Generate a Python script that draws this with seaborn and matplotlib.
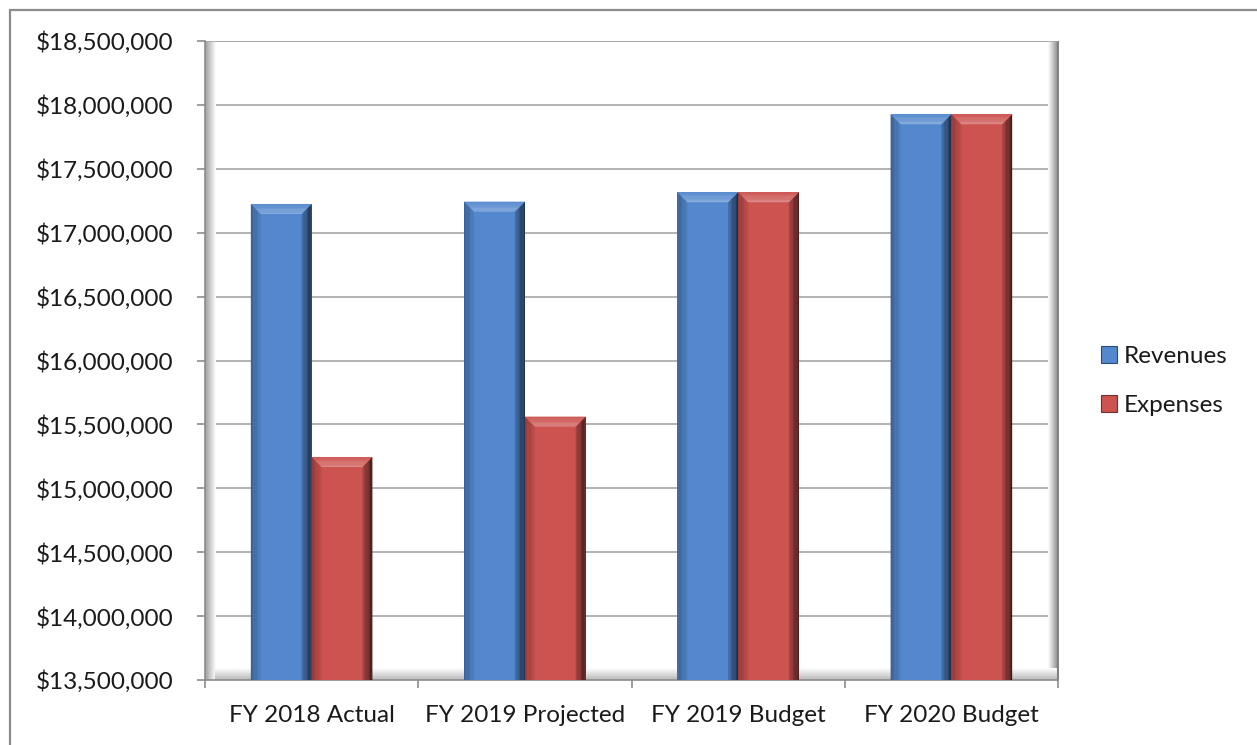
import numpy as np
import pandas as pd
import matplotlib
matplotlib.use("Agg")
import matplotlib.pyplot as plt
from matplotlib.patches import Polygon, Rectangle, Patch
from matplotlib.colors import to_rgb
import seaborn as sns

# Data
categories = ["FY 2018 Actual", "FY 2019 Projected", "FY 2019 Budget", "FY 2020 Budget"]
revenues = [17225000, 17243000, 17317000, 17927000]
expenses = [15245000, 15561000, 17317000, 17927000]
series_names = ["Revenues", "Expenses"]
colors = {"Revenues": "#5388CE", "Expenses": "#CC5350"}

df = pd.DataFrame({
    "Year": categories * 2,
    "Series": [series_names[0]] * 4 + [series_names[1]] * 4,
    "Amount": revenues + expenses,
})

sns.set_theme(style="white")
plt.rcParams["font.family"] = ["Lato", "DejaVu Sans"]

W, H, DPI = 1257, 745, 100
fig = plt.figure(figsize=(W / DPI, H / DPI), dpi=DPI)
fig.patch.set_facecolor("white")
ax = fig.add_axes([205 / W, 1 - 680 / H, (1058 - 205) / W, (680 - 41) / H])

sns.barplot(data=df, x="Year", y="Amount", hue="Series", palette=colors,
            width=0.57, saturation=1, gap=0, ax=ax, legend=False, zorder=3,
            edgecolor="none")

ymin, ymax = 13500000, 18500000
ax.set_ylim(ymin, ymax)
ax.set_xlim(-0.5, 3.5)
ax.set_yticks(np.arange(ymin, ymax + 1, 500000))
ax.yaxis.set_major_formatter(matplotlib.ticker.FuncFormatter(lambda v, p: f"${v:,.0f}"))
ax.set_xlabel("")
ax.set_ylabel("")

FS = 17.5

# gridlines
ax.grid(axis="y", color="#a6a6a6", linewidth=1.2, zorder=0)
ax.set_axisbelow(True)

for s in ["top", "right"]:
    ax.spines[s].set_visible(False)
for s in ["left", "bottom"]:
    ax.spines[s].set_color("#8c8c8c")
    ax.spines[s].set_linewidth(1.2)

ax.tick_params(axis="y", which="major", left=True, length=5.8, width=1.2, color="#8c8c8c",
               labelsize=FS, labelcolor="#1a1a1a", pad=17)
ax.set_xticks([0, 1, 2, 3])
ax.set_xticklabels(categories)
ax.tick_params(axis="x", which="major", bottom=False, labelsize=FS,
               labelcolor="#1a1a1a", pad=12)
# category boundary ticks
ax.set_xticks([-0.5, 0.5, 1.5, 2.5, 3.5], minor=True)
ax.tick_params(axis="x", which="minor", bottom=True, length=5.8, width=1.2, color="#8c8c8c")

# wall and floor shading
lw = np.linspace(0.62, 1.0, 64)
ax.imshow(np.tile(lw, (2, 1)), cmap="gray", vmin=0, vmax=1, aspect="auto",
          extent=(0, 0.012, 0.0, 1.0), transform=ax.transAxes, zorder=1)
rw = np.linspace(1.0, 0.5, 64)
ax.imshow(np.tile(rw, (2, 1)), cmap="gray", vmin=0, vmax=1, aspect="auto",
          extent=(0.988, 1.0, 0.0, 1.0), transform=ax.transAxes, zorder=1)
fl = np.linspace(0.72, 1.0, 64)[:, None]
ax.imshow(np.tile(fl, (1, 2)), cmap="gray", vmin=0, vmax=1, aspect="auto",
          extent=(0.012, 1.0, 0.0, 0.018), transform=ax.transAxes, zorder=1,
          origin="lower")
ax.plot([1.0, 1.0], [0.0, 1.0], transform=ax.transAxes, color="#7f7f7f", lw=1.5, zorder=1)
ax.plot([0.0, 1.0], [1.0, 1.0], transform=ax.transAxes, color="#a6a6a6", lw=1.2, zorder=1)


def shade(c, f):
    r = np.array(to_rgb(c))
    if f >= 0:
        return tuple(r + (1 - r) * f)
    return tuple(r * (1 + f))


# bevelled bar faces
fig.canvas.draw()
inv = ax.transData.inverted()
px_x = inv.transform((10, 0))[0] - inv.transform((0, 0))[0]
px_y = inv.transform((0, 10))[1] - inv.transform((0, 0))[1]
for bar in ax.patches:
    if not isinstance(bar, Rectangle) or bar.get_height() <= 0:
        continue
    x0, w, top = bar.get_x(), bar.get_width(), bar.get_height()
    x1 = x0 + w
    base = ymin
    c = bar.get_facecolor()
    bx, by = px_x, px_y
    n = 8
    # left side gradient
    for i in range(n):
        a0 = x0 + bx * i / n
        a1 = x0 + bx * (i + 1) / n
        t0 = top - by * i / n
        t1 = top - by * (i + 1) / n
        ax.add_patch(Polygon([(a0, base), (a0, t0), (a1, t1), (a1, base)], closed=True,
                             facecolor=shade(c, -0.3 + 0.25 * i / n), edgecolor="none", zorder=4))
    # right side gradient
    for i in range(n):
        a0 = x1 - bx * (1 - i / n)
        a1 = x1 - bx * (1 - (i + 1) / n)
        t0 = top - by * (1 - i / n)
        t1 = top - by * (1 - (i + 1) / n)
        ax.add_patch(Polygon([(a0, base), (a0, t0), (a1, t1), (a1, base)], closed=True,
                             facecolor=shade(c, -0.2 - 0.55 * i / n), edgecolor="none", zorder=4))
    # top bevel gradient
    for i in range(n):
        f0, f1 = i / n, (i + 1) / n
        ax.add_patch(Polygon([(x0 + bx * f0, top - by * f0), (x1 - bx * f0, top - by * f0),
                              (x1 - bx * f1, top - by * f1), (x0 + bx * f1, top - by * f1)],
                             closed=True, facecolor=shade(c, 0.05 + 0.3 * i / n),
                             edgecolor="none", zorder=5))

# legend
handles = [Patch(facecolor=colors[s], edgecolor=shade(colors[s], -0.45), linewidth=0.8, label=s)
           for s in series_names]
fig.legend(handles=handles, loc="center left", bbox_to_anchor=(1079 / W, 1 - 381 / H),
           frameon=False, fontsize=FS, handlelength=0.65, handleheight=0.65,
           handletextpad=0.3, labelspacing=1.15, labelcolor="#1a1a1a")

# chart frame
fig.add_artist(Rectangle((10 / W, -0.05), 1.2, 1 - 10 / H + 0.05, transform=fig.transFigure,
                         fill=False, edgecolor="#8c8c8c", linewidth=1.6))

fig.savefig("out.png", dpi=DPI)
